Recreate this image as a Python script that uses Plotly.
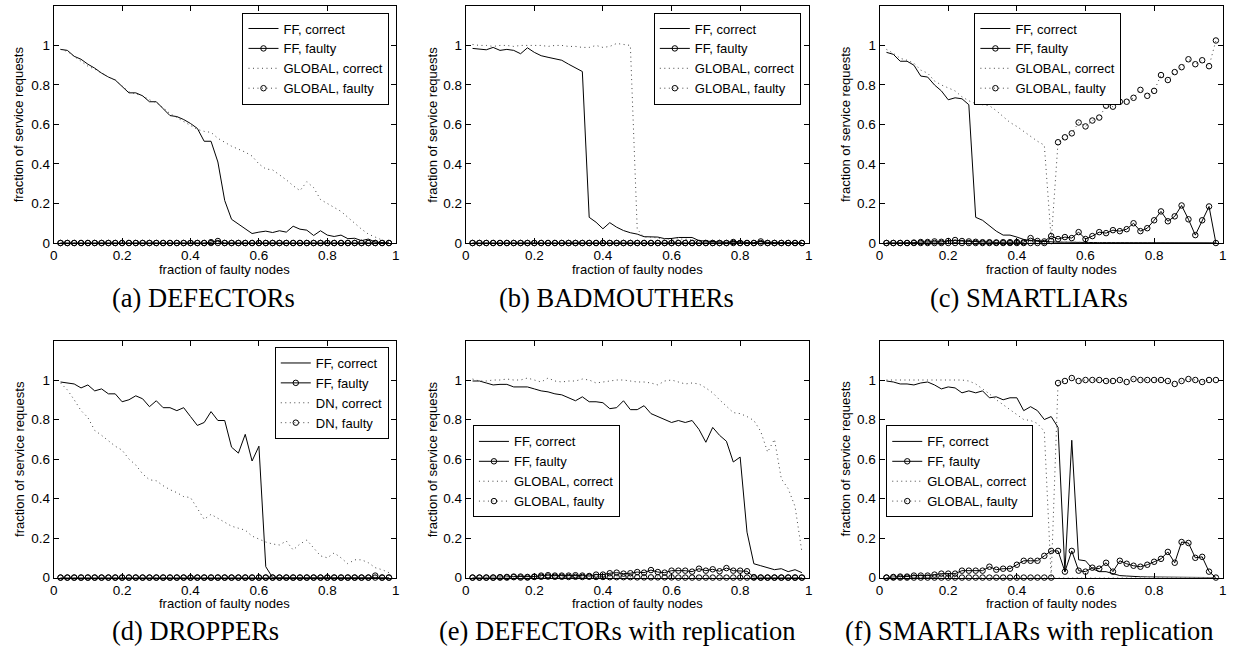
import plotly.graph_objects as go

# ---------------- data ----------------
X = [0.02, 0.04, 0.06, 0.08, 0.10, 0.12, 0.14, 0.16, 0.18, 0.20,
     0.22, 0.24, 0.26, 0.28, 0.30, 0.32, 0.34, 0.36, 0.38, 0.40,
     0.42, 0.44, 0.46, 0.48, 0.50, 0.52, 0.54, 0.56, 0.58, 0.60,
     0.62, 0.64, 0.66, 0.68, 0.70, 0.72, 0.74, 0.76, 0.78, 0.80,
     0.82, 0.84, 0.86, 0.88, 0.90, 0.92, 0.94, 0.96, 0.98]

X_TICKS = [0, 0.2, 0.4, 0.6, 0.8, 1]
Y_TICKS = [0, 0.2, 0.4, 0.6, 0.8, 1]

# (a) DEFECTORs
A_FF_CORRECT = [0.98, 0.975, 0.945, 0.93, 0.905, 0.885, 0.86, 0.84, 0.825, 0.795,
                0.76, 0.76, 0.745, 0.715, 0.715, 0.68, 0.645, 0.64, 0.625, 0.605,
                0.58, 0.515, 0.515, 0.41, 0.215, 0.12, 0.095, 0.07, 0.048, 0.055,
                0.06, 0.053, 0.062, 0.055, 0.085, 0.07, 0.065, 0.038, 0.062, 0.04,
                0.033, 0.04, 0.022, 0.024, 0.012, 0.02, 0.005, 0.002, 0.0]
A_FF_FAULTY = [0, 0, 0, 0, 0, 0, 0, 0, 0, 0,
               0, 0, 0, 0, 0, 0, 0, 0, 0, 0,
               0, 0, 0.004, 0.01, 0, 0, 0, 0, 0, 0,
               0, 0, 0, 0, 0, 0, 0, 0, 0, 0,
               0, 0, 0, 0, 0, 0, 0, 0, 0]
A_GL_CORRECT = [0.98, 0.97, 0.945, 0.92, 0.895, 0.88, 0.86, 0.84, 0.825, 0.795,
                0.765, 0.755, 0.745, 0.725, 0.71, 0.685, 0.655, 0.635, 0.615, 0.595,
                0.575, 0.565, 0.56, 0.53, 0.51, 0.49, 0.475, 0.46, 0.44, 0.40,
                0.375, 0.37, 0.345, 0.32, 0.29, 0.265, 0.31, 0.28, 0.22, 0.20,
                0.18, 0.16, 0.13, 0.10, 0.07, 0.045, 0.03, 0.015, 0.005]
A_GL_FAULTY = [0, 0, 0, 0, 0, 0, 0, 0, 0, 0,
               0, 0, 0, 0, 0, 0, 0, 0, 0, 0,
               0, 0, 0, 0, 0, 0, 0, 0, 0, 0,
               0, 0, 0, 0, 0, 0, 0, 0, 0, 0,
               0, 0, 0, 0, 0, 0, 0, 0, 0]

# (b) BADMOUTHERs
B_FF_CORRECT = [0.985, 0.98, 0.978, 0.99, 0.975, 0.98, 0.975, 0.958, 0.988, 0.965,
                0.948, 0.94, 0.932, 0.925, 0.905, 0.885, 0.868, 0.13, 0.105, 0.072,
                0.103, 0.08, 0.063, 0.052, 0.045, 0.032, 0.032, 0.03, 0.022, 0.023,
                0.028, 0.027, 0.028, 0.012, 0.01, 0.005, 0.004, 0.003, 0.008, 0.004,
                0.003, 0.002, 0.008, 0.003, 0.002, 0.002, 0.003, 0.001, 0.0]
B_FF_FAULTY = [0, 0, 0, 0, 0, 0, 0, 0, 0, 0,
               0, 0, 0, 0, 0, 0, 0, 0, 0, 0,
               0, 0, 0, 0, 0, 0, 0, 0, 0, 0,
               0, 0, 0, 0, 0, 0, 0, 0, 0.005, 0,
               0, 0, 0.008, 0, 0, 0, 0, 0, 0]
B_GL_CORRECT = [1.005, 1.0, 1.0, 0.995, 1.0, 1.0, 0.995, 1.0, 1.0, 1.0,
                1.0, 0.995, 1.0, 1.0, 0.995, 0.995, 0.99, 0.99, 1.0, 0.99,
                0.995, 1.01, 1.005, 1.0, 0.07, 0.03, 0.03, 0.025, 0.02, 0.02,
                0.02, 0.02, 0.015, 0.01, 0.005, 0.005, 0.004, 0.003, 0.005, 0.003,
                0.003, 0.002, 0.004, 0.003, 0.002, 0.002, 0.002, 0.001, 0.0]
B_GL_FAULTY = [0, 0, 0, 0, 0, 0, 0, 0, 0, 0,
               0, 0, 0, 0, 0, 0, 0, 0, 0, 0,
               0, 0, 0, 0, 0, 0, 0, 0, 0, 0,
               0, 0, 0, 0, 0, 0, 0, 0, 0, 0,
               0, 0, 0, 0, 0, 0, 0, 0, 0]

# (c) SMARTLIARs
C_FF_CORRECT = [0.965, 0.955, 0.92, 0.92, 0.90, 0.845, 0.84, 0.80, 0.77, 0.725,
                0.735, 0.73, 0.70, 0.13, 0.115, 0.085, 0.06, 0.04, 0.04, 0.03,
                0.018, 0.012, 0.01, 0.005, 0.005, 0.004, 0.004, 0.003, 0.003, 0.003,
                0.002, 0.002, 0.002, 0.002, 0.002, 0.002, 0.001, 0.001, 0.001, 0.001,
                0.001, 0.003, 0.001, 0.001, 0.004, 0.001, 0.001, 0.001, 0.0]
C_FF_FAULTY = [0, 0, 0, 0, 0.002, 0.005, 0.005, 0.008, 0.006, 0.01,
               0.015, 0.01, 0.008, 0.006, 0.004, 0.004, 0.003, 0.004, 0.004, 0.005,
               0.004, 0.025, 0.01, 0.008, 0.035, 0.02, 0.03, 0.025, 0.055, 0.02,
               0.035, 0.055, 0.05, 0.065, 0.06, 0.07, 0.10, 0.06, 0.075, 0.115,
               0.16, 0.11, 0.135, 0.19, 0.12, 0.04, 0.115, 0.185, 0.0]
C_GL_CORRECT = [0.98, 0.96, 0.935, 0.925, 0.91, 0.875, 0.86, 0.82, 0.80, 0.785,
                0.77, 0.74, 0.72, 0.705, 0.70, 0.695, 0.67, 0.64, 0.61, 0.59,
                0.565, 0.54, 0.515, 0.495, 0.02, 0.005, 0.004, 0.003, 0.003, 0.002,
                0.002, 0.002, 0.002, 0.002, 0.001, 0.001, 0.001, 0.001, 0.001, 0.001,
                0.001, 0.001, 0.001, 0.001, 0.001, 0.001, 0.001, 0.001, 0.0]
C_GL_FAULTY = [0, 0, 0, 0, 0, 0, 0, 0, 0, 0,
               0, 0, 0, 0, 0, 0, 0, 0, 0, 0,
               0, 0, 0, 0, 0.01, 0.51, 0.535, 0.555, 0.61, 0.59,
               0.62, 0.635, 0.695, 0.69, 0.715, 0.715, 0.735, 0.775, 0.745, 0.77,
               0.85, 0.825, 0.865, 0.89, 0.93, 0.905, 0.925, 0.895, 1.025]

# (d) DROPPERs
D_FF_CORRECT = [0.99, 0.985, 0.98, 0.96, 0.975, 0.945, 0.955, 0.93, 0.93, 0.89,
                0.90, 0.92, 0.905, 0.865, 0.895, 0.86, 0.86, 0.845, 0.86, 0.815,
                0.77, 0.785, 0.84, 0.795, 0.795, 0.66, 0.63, 0.725, 0.59, 0.665,
                0.055, 0.0, 0, 0, 0, 0, 0, 0, 0, 0,
                0, 0, 0, 0, 0, 0, 0, 0, 0]
D_FF_FAULTY = [0, 0, 0, 0, 0, 0, 0, 0, 0, 0,
               0, 0, 0, 0, 0, 0, 0, 0, 0, 0,
               0, 0, 0, 0, 0, 0, 0, 0, 0, 0,
               0, 0, 0, 0, 0, 0, 0, 0, 0, 0,
               0, 0, 0, 0, 0, 0, 0, 0, 0]
D_DN_CORRECT = [0.985, 0.95, 0.90, 0.845, 0.81, 0.745, 0.72, 0.69, 0.665, 0.645,
                0.60, 0.57, 0.525, 0.495, 0.49, 0.465, 0.445, 0.43, 0.41, 0.405,
                0.35, 0.295, 0.32, 0.30, 0.28, 0.26, 0.25, 0.24, 0.21, 0.195,
                0.18, 0.17, 0.165, 0.185, 0.14, 0.17, 0.19, 0.15, 0.11, 0.10,
                0.125, 0.10, 0.07, 0.09, 0.09, 0.075, 0.05, 0.04, 0.025]
D_DN_FAULTY = [0, 0, 0, 0, 0, 0, 0, 0, 0, 0,
               0, 0, 0, 0, 0, 0, 0, 0, 0, 0,
               0, 0, 0, 0, 0, 0, 0, 0, 0, 0,
               0, 0, 0, 0, 0, 0, 0, 0, 0, 0,
               0, 0, 0, 0, 0, 0, 0.01, 0, 0]

# (e) DEFECTORs with replication
E_FF_CORRECT = [0.995, 0.995, 0.985, 0.975, 0.978, 0.978, 0.965, 0.965, 0.965, 0.955,
                0.945, 0.94, 0.93, 0.925, 0.91, 0.895, 0.915, 0.89, 0.89, 0.885,
                0.855, 0.86, 0.895, 0.85, 0.85, 0.87, 0.83, 0.815, 0.80, 0.785,
                0.795, 0.785, 0.795, 0.75, 0.685, 0.76, 0.72, 0.69, 0.585, 0.61,
                0.23, 0.07, 0.06, 0.05, 0.04, 0.045, 0.03, 0.04, 0.025]
E_FF_FAULTY = [0, 0, 0, 0, 0.002, 0.003, 0.005, 0.005, 0.003, 0.005,
               0.01, 0.012, 0.01, 0.01, 0.01, 0.012, 0.01, 0.008, 0.015, 0.015,
               0.022, 0.025, 0.02, 0.022, 0.028, 0.025, 0.038, 0.028, 0.025, 0.035,
               0.035, 0.035, 0.03, 0.045, 0.035, 0.042, 0.032, 0.048, 0.035, 0.035,
               0.032, 0.002, 0, 0, 0, 0, 0, 0, 0]
E_GL_CORRECT = [1.005, 0.995, 0.995, 1.0, 1.0, 1.005, 1.0, 1.0, 1.01, 1.0,
                0.99, 1.01, 0.995, 0.99, 0.995, 0.995, 1.005, 1.0, 0.985, 0.99,
                0.995, 1.0, 1.0, 0.995, 0.99, 0.99, 0.985, 0.975, 0.995, 1.0,
                0.99, 0.98, 0.985, 0.98, 0.96, 0.935, 0.90, 0.865, 0.835, 0.83,
                0.815, 0.795, 0.74, 0.635, 0.70, 0.50, 0.45, 0.36, 0.13]
E_GL_FAULTY = [0, 0, 0, 0, 0, 0, 0.002, 0, 0, 0.003,
               0.004, 0.005, 0.004, 0.004, 0.003, 0.004, 0.003, 0.004, 0.003, 0.003,
               0.002, 0.002, 0.002, 0.002, 0.001, 0.001, 0.001, 0.001, 0.001, 0.001,
               0, 0, 0, 0, 0, 0, 0, 0, 0, 0,
               0, 0, 0, 0, 0, 0, 0, 0, 0]

# (f) SMARTLIARs with replication
F_FF_CORRECT = [0.995, 0.99, 0.98, 0.98, 0.975, 0.985, 0.99, 0.975, 0.955, 0.965,
                0.96, 0.935, 0.945, 0.935, 0.945, 0.91, 0.915, 0.90, 0.91, 0.91,
                0.845, 0.865, 0.845, 0.80, 0.815, 0.76, 0.03, 0.695, 0.09, 0.085,
                0.045, 0.03, 0.03, 0.02, 0.01, 0.008, 0.005, 0.004, 0.003, 0.003,
                0.002, 0.0, 0, 0, 0, 0, 0, 0, 0]
F_FF_FAULTY = [0.0, 0.003, 0.005, 0.005, 0.01, 0.01, 0.01, 0.015, 0.02, 0.02,
               0.02, 0.035, 0.035, 0.035, 0.035, 0.055, 0.04, 0.045, 0.045, 0.065,
               0.085, 0.085, 0.085, 0.11, 0.135, 0.135, 0.03, 0.135, 0.035, 0.03,
               0.05, 0.045, 0.075, 0.03, 0.085, 0.07, 0.06, 0.055, 0.065, 0.08,
               0.095, 0.13, 0.075, 0.18, 0.175, 0.10, 0.105, 0.03, 0.0]
F_GL_CORRECT = [1.0, 1.0, 1.0, 1.0, 1.0, 1.0, 1.0, 1.0, 1.0, 1.0,
                1.0, 1.0, 0.995, 0.98, 0.955, 0.93, 0.90, 0.875, 0.85, 0.825,
                0.80, 0.795, 0.78, 0.74, 0.0, 0, 0, 0, 0, 0,
                0, 0, 0, 0, 0, 0, 0, 0, 0, 0,
                0, 0, 0, 0, 0, 0, 0, 0, 0]
F_GL_FAULTY = [0, 0, 0, 0, 0, 0, 0, 0, 0, 0,
               0, 0, 0, 0, 0, 0, 0, 0, 0, 0,
               0, 0, 0, 0, 0, 0.985, 0.995, 1.01, 0.995, 1.0,
               1.0, 1.0, 0.995, 0.995, 1.0, 0.99, 1.005, 1.0, 1.0, 1.0,
               1.0, 0.995, 0.98, 0.995, 1.005, 1.0, 0.99, 1.0, 1.0]

CAPTIONS = ["(a) DEFECTORs", "(b) BADMOUTHERs", "(c) SMARTLIARs",
            "(d) DROPPERs", "(e) DEFECTORs with replication",
            "(f) SMARTLIARs with replication"]
OTHER = ["GLOBAL", "GLOBAL", "GLOBAL", "DN", "GLOBAL", "GLOBAL"]
SERIES = [
    (A_FF_CORRECT, A_FF_FAULTY, A_GL_CORRECT, A_GL_FAULTY),
    (B_FF_CORRECT, B_FF_FAULTY, B_GL_CORRECT, B_GL_FAULTY),
    (C_FF_CORRECT, C_FF_FAULTY, C_GL_CORRECT, C_GL_FAULTY),
    (D_FF_CORRECT, D_FF_FAULTY, D_DN_CORRECT, D_DN_FAULTY),
    (E_FF_CORRECT, E_FF_FAULTY, E_GL_CORRECT, E_GL_FAULTY),
    (F_FF_CORRECT, F_FF_FAULTY, F_GL_CORRECT, F_GL_FAULTY),
]

# ---------------- layout geometry (pixels) ----------------
W, H = 1237, 657
COLS = [(50, 394.3), (464.7, 810), (881.3, 1226.7)]
ROWS = [(6, 246), (344.7, 584.7)]
YTITLE_X = [15, 431, 847]
XTITLE_Y = [272.7, 611.3]
CAPTION_Y = [302, 639]
CAPTION_X = [[200.5, 616, 1031.5], [193, 617, 1032]]
# legend anchor: (x px, y px, xanchor)
LEGEND_POS = [(388, 12.7, "right"), (802, 12.7, "right"), (976.7, 12.7, "left"),
              (387.3, 351.3, "right"), (472, 430.7, "left"), (888, 430.7, "left")]

FONT = "Liberation Sans, Arial, sans-serif"
SERIF = "Liberation Serif, Times New Roman, serif"
DOT = "1px,3.5px"

fig = go.Figure()
layout = dict(
    width=W, height=H,
    margin=dict(l=0, r=0, t=0, b=0),
    paper_bgcolor="white", plot_bgcolor="white",
    font=dict(family=FONT, color="black", size=13),
    showlegend=True,
    annotations=[],
)

for i in range(6):
    r, c = divmod(i, 3)
    k = "" if i == 0 else str(i + 1)
    xa, ya = "x" + k, "y" + k
    leg = "legend" + k
    ffc, fff, glc, glf = SERIES[i]
    other = OTHER[i]
    traces = [
        go.Scatter(x=X, y=ffc, mode="lines", name="FF, correct",
                   line=dict(color="black", width=1)),
        go.Scatter(x=X, y=fff, mode="lines+markers", name="FF, faulty",
                   line=dict(color="black", width=1),
                   marker=dict(symbol="circle-open", size=5.5, color="black",
                               line=dict(width=1, color="black"))),
        go.Scatter(x=X, y=glc, mode="lines", name=other + ", correct",
                   line=dict(color="#444444", width=1, dash=DOT)),
        go.Scatter(x=X, y=glf, mode="lines+markers", name=other + ", faulty",
                   line=dict(color="#444444", width=1, dash=DOT),
                   marker=dict(symbol="circle-open", size=5.5, color="black",
                               line=dict(width=1, color="black"))),
    ]
    for t in traces:
        t.update(xaxis=xa, yaxis=ya, legend=leg, cliponaxis=False)
        fig.add_trace(t)

    x0, x1 = COLS[c]
    y0, y1 = ROWS[r]
    axcommon = dict(showgrid=False, zeroline=False, showline=True,
                    linecolor="black", linewidth=1, mirror="allticks",
                    ticks="inside", ticklen=5, tickcolor="black",
                    ticklabeloverflow="allow",
                    tickfont=dict(family=FONT, size=13.5, color="black"))
    layout["xaxis" + k] = dict(axcommon, domain=[x0 / W, x1 / W], anchor=ya,
                               range=[0, 1], tickvals=X_TICKS,
                               ticktext=[f"{v:g}" for v in X_TICKS])
    layout["yaxis" + k] = dict(axcommon, domain=[1 - y1 / H, 1 - y0 / H], anchor=xa,
                               range=[0, 1.2], tickvals=Y_TICKS,
                               ticktext=[f"{v:g}" for v in Y_TICKS])
    lx, ly, lxa = LEGEND_POS[i]
    layout[leg] = dict(x=lx / W, y=1 - ly / H, xanchor=lxa, yanchor="top",
                       xref="paper", yref="paper",
                       bgcolor="white", bordercolor="black", borderwidth=1,
                       font=dict(family=FONT, size=13, color="black"),
                       itemwidth=30, tracegroupgap=0)
    # axis titles & caption
    layout["annotations"] += [
        dict(text="fraction of faulty nodes", x=(x0 + x1) / 2 / W,
             y=1 - XTITLE_Y[r] / H, xref="paper", yref="paper",
             showarrow=False, xanchor="center", yanchor="middle",
             font=dict(family=FONT, size=13)),
        dict(text="fraction of service requests", x=YTITLE_X[c] / W,
             y=1 - (y0 + y1) / 2 / H, xref="paper", yref="paper",
             showarrow=False, xanchor="center", yanchor="middle", textangle=-90,
             font=dict(family=FONT, size=13)),
        dict(text=CAPTIONS[i], x=CAPTION_X[r][c] / W, y=1 - CAPTION_Y[r] / H,
             xref="paper", yref="paper", showarrow=False,
             xanchor="center", yanchor="middle",
             font=dict(family=SERIF, size=26.5, color="black")),
    ]

fig.update_layout(**layout)
fig.write_html(
    "out.html",
    config={"displayModeBar": False},
    post_script=("document.documentElement.style.margin='0';"
                 "document.body.style.margin='0';"
                 "document.body.style.padding='0';"
                 "document.documentElement.style.overflow='hidden';"),
)
